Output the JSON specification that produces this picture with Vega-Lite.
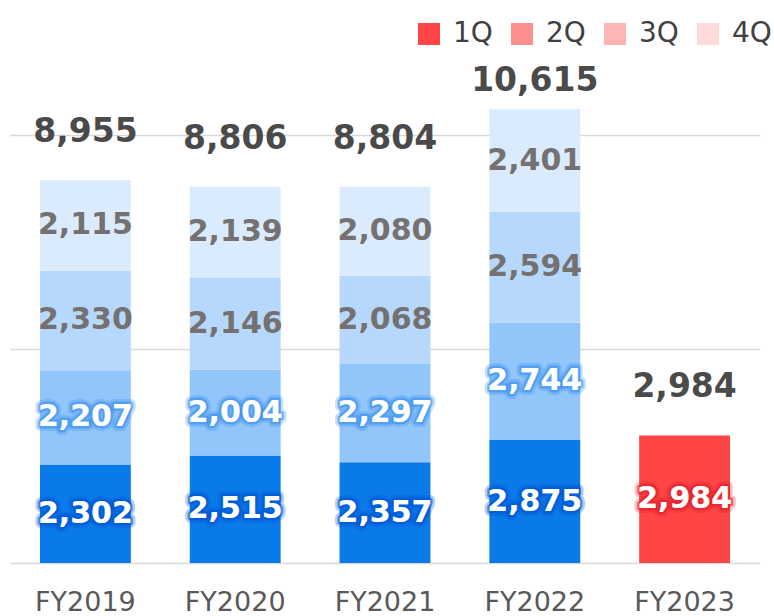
{
  "$schema": "https://vega.github.io/schema/vega-lite/v6.json",
  "width": 760,
  "height": 513,
  "autosize": {"type": "none"},
  "padding": {"left": 10, "top": 50, "right": 4, "bottom": 53},
  "background": "white",
  "config": {
    "view": {"stroke": null},
    "font": "DejaVu Sans"
  },
  "datasets": {
    "segments": [
      {"fy": "FY2019", "quarter": "1Q", "value": 2302},
      {"fy": "FY2019", "quarter": "2Q", "value": 2207},
      {"fy": "FY2019", "quarter": "3Q", "value": 2330},
      {"fy": "FY2019", "quarter": "4Q", "value": 2115},
      {"fy": "FY2020", "quarter": "1Q", "value": 2515},
      {"fy": "FY2020", "quarter": "2Q", "value": 2004},
      {"fy": "FY2020", "quarter": "3Q", "value": 2146},
      {"fy": "FY2020", "quarter": "4Q", "value": 2139},
      {"fy": "FY2021", "quarter": "1Q", "value": 2357},
      {"fy": "FY2021", "quarter": "2Q", "value": 2297},
      {"fy": "FY2021", "quarter": "3Q", "value": 2068},
      {"fy": "FY2021", "quarter": "4Q", "value": 2080},
      {"fy": "FY2022", "quarter": "1Q", "value": 2875},
      {"fy": "FY2022", "quarter": "2Q", "value": 2744},
      {"fy": "FY2022", "quarter": "3Q", "value": 2594},
      {"fy": "FY2022", "quarter": "4Q", "value": 2401},
      {"fy": "FY2023", "quarter": "1Q", "value": 2984}
    ],
    "totals": [
      {"fy": "FY2019", "total": 8955},
      {"fy": "FY2020", "total": 8806},
      {"fy": "FY2021", "total": 8804},
      {"fy": "FY2022", "total": 10615},
      {"fy": "FY2023", "total": 2984}
    ]
  },
  "encoding": {
    "x": {
      "field": "fy",
      "type": "nominal",
      "sort": ["FY2019", "FY2020", "FY2021", "FY2022", "FY2023"],
      "scale": {"type": "band", "range": [0, 750], "paddingInner": 0.3933, "paddingOuter": 0.2},
      "axis": {
        "title": null,
        "labelAngle": 0,
        "ticks": false,
        "domain": false,
        "grid": false,
        "labelFont": "DejaVu Sans",
        "labelFontSize": 27,
        "labelColor": "#595959",
        "labelPadding": 26
      }
    }
  },
  "layer": [
    {
      "data": {"name": "segments"},
      "transform": [
        {"filter": "datum.fy != 'FY2023'"},
        {"stack": "value", "groupby": ["fy"], "sort": [{"field": "quarter", "order": "ascending"}], "as": ["y0", "y1"]}
      ],
      "mark": {"type": "bar"},
      "encoding": {
        "y": {
          "field": "y0",
          "type": "quantitative",
          "scale": {"domain": [0, 12000], "nice": false},
          "axis": {
            "title": null,
            "labels": false,
            "ticks": false,
            "domain": false,
            "values": [0, 5000, 10000],
            "grid": true,
            "gridColor": "#d9d9d9",
            "gridWidth": 1.5
          }
        },
        "y2": {"field": "y1"},
        "fill": {
          "field": "quarter",
          "type": "nominal",
          "scale": {"domain": ["1Q", "2Q", "3Q", "4Q"], "range": ["#0A7AE8", "#92C6FA", "#B6D8FC", "#DAEBFD"]},
          "legend": null
        }
      }
    },
    {
      "data": {"name": "segments"},
      "transform": [
        {"filter": "datum.fy == 'FY2023'"},
        {"stack": "value", "groupby": ["fy"], "sort": [{"field": "quarter", "order": "ascending"}], "as": ["y0", "y1"]}
      ],
      "mark": {"type": "bar"},
      "encoding": {
        "y": {"field": "y0", "type": "quantitative"},
        "y2": {"field": "y1"},
        "fill": {
          "field": "quarter",
          "type": "nominal",
          "scale": {"domain": ["1Q", "2Q", "3Q", "4Q"], "range": ["#FF4545", "#FF8F8F", "#FFB5B5", "#FFDADA"]},
          "legend": {
            "title": null,
            "orient": "none",
            "direction": "horizontal",
            "columns": 4,
            "legendX": 405,
            "legendY": -30,
            "padding": 0,
            "symbolType": "square",
            "symbolSize": 484,
            "symbolStrokeWidth": 0,
            "labelFont": "DejaVu Sans",
            "labelFontSize": 28,
            "labelColor": "#404040",
            "labelOffset": 10,
            "columnPadding": 15
          }
        }
      }
    },
    {
      "data": {"name": "segments"},
      "transform": [
        {"stack": "value", "groupby": ["fy"], "sort": [{"field": "quarter", "order": "ascending"}], "as": ["y0", "y1"]},
        {"calculate": "(datum.y0 + datum.y1) / 2", "as": "ymid"},
        {"filter": "datum.quarter == '1Q' || datum.quarter == '2Q'"}
      ],
      "mark": {"type": "text", "font": "DejaVu Sans", "fontWeight": "bold", "fontSize": 30, "baseline": "middle", "strokeWidth": 10, "strokeOpacity": 0.3, "strokeJoin": "round"},
      "encoding": {
        "y": {"field": "ymid", "type": "quantitative"},
        "text": {"field": "value", "type": "quantitative", "format": ","},
        "fill": {"value": "#ffffff"},
        "stroke": {
          "condition": [
            {"test": "datum.fy == 'FY2023'", "value": "#E0202A"},
            {"test": "datum.quarter == '1Q'", "value": "#0054D4"}
          ],
          "value": "#3A90F0"
        }
      }
    },
    {
      "data": {"name": "segments"},
      "transform": [
        {"stack": "value", "groupby": ["fy"], "sort": [{"field": "quarter", "order": "ascending"}], "as": ["y0", "y1"]},
        {"calculate": "(datum.y0 + datum.y1) / 2", "as": "ymid"},
        {"filter": "datum.quarter == '1Q' || datum.quarter == '2Q'"}
      ],
      "mark": {"type": "text", "font": "DejaVu Sans", "fontWeight": "bold", "fontSize": 30, "baseline": "middle", "strokeWidth": 5, "strokeOpacity": 0.6, "strokeJoin": "round"},
      "encoding": {
        "y": {"field": "ymid", "type": "quantitative"},
        "text": {"field": "value", "type": "quantitative", "format": ","},
        "fill": {"value": "#ffffff"},
        "stroke": {
          "condition": [
            {"test": "datum.fy == 'FY2023'", "value": "#E0202A"},
            {"test": "datum.quarter == '1Q'", "value": "#0054D4"}
          ],
          "value": "#3A90F0"
        }
      }
    },
    {
      "data": {"name": "segments"},
      "transform": [
        {"stack": "value", "groupby": ["fy"], "sort": [{"field": "quarter", "order": "ascending"}], "as": ["y0", "y1"]},
        {"calculate": "(datum.y0 + datum.y1) / 2", "as": "ymid"}
      ],
      "mark": {"type": "text", "font": "DejaVu Sans", "fontWeight": "bold", "fontSize": 30, "baseline": "middle"},
      "encoding": {
        "y": {"field": "ymid", "type": "quantitative"},
        "text": {"field": "value", "type": "quantitative", "format": ","},
        "fill": {
          "condition": {"test": "datum.quarter == '1Q' || datum.quarter == '2Q'", "value": "#ffffff"},
          "value": "#767171"
        }
      }
    },
    {
      "data": {"name": "totals"},
      "transform": [{"filter": "datum.total < 10000"}],
      "mark": {"type": "text", "font": "DejaVu Sans", "fontWeight": "bold", "fontSize": 33, "baseline": "middle", "dy": -48, "color": "#4A4A4A"},
      "encoding": {
        "y": {"field": "total", "type": "quantitative"},
        "text": {"field": "total", "type": "quantitative", "format": ","}
      }
    },
    {
      "data": {"name": "totals"},
      "transform": [{"filter": "datum.total >= 10000"}],
      "mark": {"type": "text", "font": "DejaVu Sans", "fontWeight": "bold", "fontSize": 33, "baseline": "middle", "dy": -28, "color": "#4A4A4A"},
      "encoding": {
        "y": {"field": "total", "type": "quantitative"},
        "text": {"field": "total", "type": "quantitative", "format": ","}
      }
    }
  ],
  "resolve": {"scale": {"fill": "independent"}}
}
